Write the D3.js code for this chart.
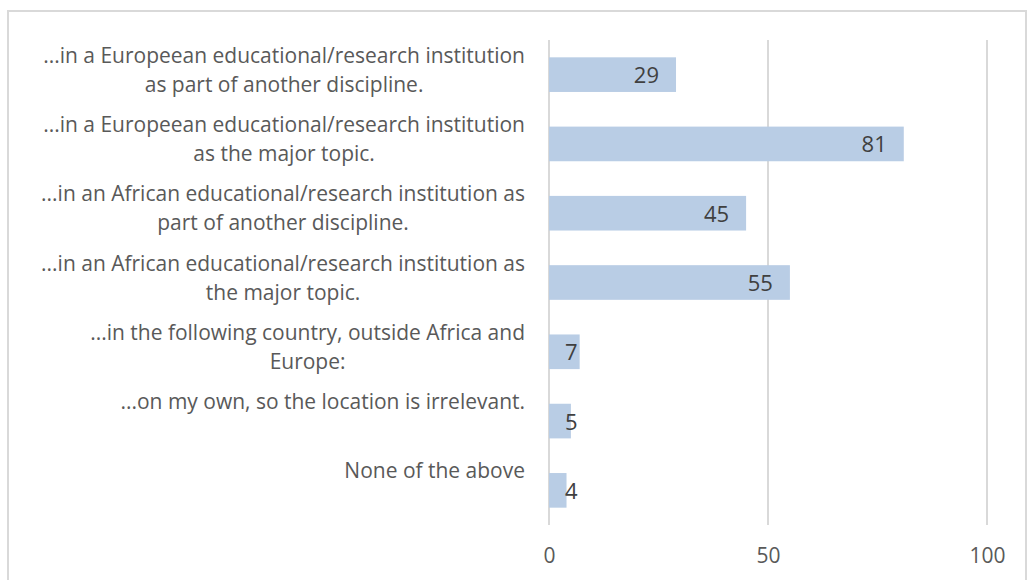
<!DOCTYPE html>
<html>
<head>
<meta charset="utf-8">
<script src="https://cdn.jsdelivr.net/npm/d3@7"></script>
<style>
  html, body { margin: 0; padding: 0; background: #fff; }
  svg { display: block; }
  text { font-family: "Open Sans", sans-serif; }
</style>
</head>
<body>
<svg id="chart" width="1027" height="580"></svg>
<script>
const categories = [
  ["...in a Europeean educational/research institution", "as part of another discipline."],
  ["...in a Europeean educational/research institution", "as the major topic."],
  ["...in an African educational/research institution as", "part of another discipline."],
  ["...in an African educational/research institution as", "the major topic."],
  ["...in the following country, outside Africa and", "Europe:"],
  ["...on my own, so the location is irrelevant."],
  ["None of the above"]
];
const values = [29, 81, 45, 55, 7, 5, 4];
const tickValues = [0, 50, 100];

const svg = d3.select("#chart");
const W = 1027, H = 580;

// outer frame
svg.append("rect")
  .attr("x", 8).attr("y", 11).attr("width", 1018).attr("height", 600)
  .attr("fill", "#fff").attr("stroke", "#d9d9d9").attr("stroke-width", 2);

const plot = { left: 549, right: 987, top: 40, bottom: 525 };
const x = d3.scaleLinear().domain([0, 100]).range([plot.left, plot.right]);
const y = d3.scaleBand().domain(d3.range(categories.length))
  .range([plot.top, plot.bottom]).paddingInner(0.5).paddingOuter(0.25);

// gridlines
svg.append("g").selectAll("line").data(tickValues).join("line")
  .attr("x1", d => x(d)).attr("x2", d => x(d))
  .attr("y1", plot.top).attr("y2", plot.bottom)
  .attr("stroke", "#d9d9d9").attr("stroke-width", 2);

// x axis labels via d3 axis
const xAxis = d3.axisBottom(x).tickValues(tickValues).tickSize(0).tickPadding(0);
const gx = svg.append("g").attr("transform", `translate(0,${plot.bottom})`).call(xAxis);
gx.select(".domain").remove();
gx.selectAll("text")
  .attr("dy", null).attr("y", 38)
  .attr("fill", "#595959").style("font-size", "21px")
  .style("font-family", "'Open Sans', sans-serif");

// bars
svg.append("g").selectAll("rect").data(values).join("rect")
  .attr("x", x(0))
  .attr("y", (d, i) => y(i))
  .attr("width", d => x(d) - x(0))
  .attr("height", y.bandwidth())
  .attr("fill", "#b9cde5");

// data labels (inside end)
const dl = svg.append("g").selectAll("text").data(values).join("text")
  .attr("text-anchor", "end")
  .attr("fill", "#404040")
  .style("font-size", "22px")
  .text(d => d);
dl.each(function(d, i) {
  const w = this.getComputedTextLength();
  const xe = Math.max(x(d) - 17, x(0) + 16 + w);
  d3.select(this).attr("x", xe).attr("y", y(i) + y.bandwidth() / 2 + 8.5);
});

// category labels
const labelRight = 525;
const targetWidth = 482;
const catG = svg.append("g");
// measure font size
const probe = catG.append("text").style("font-size", "20px").text(categories[0][0]);
const fs = 20 * targetWidth / probe.node().getComputedTextLength();
probe.remove();

categories.forEach((lines, i) => {
  const cy = y(i) + y.bandwidth() / 2;
  const tmp = lines.map(l => {
    const t = catG.append("text").style("font-size", fs + "px").text(l);
    const w = t.node().getComputedTextLength();
    t.remove();
    return w;
  });
  const maxW = d3.max(tmp);
  const cx = labelRight - maxW / 2;
  const t = catG.append("text")
    .attr("text-anchor", "middle")
    .attr("fill", "#595959")
    .style("font-size", fs + "px");
  lines.forEach((l, j) => {
    t.append("tspan").attr("x", cx).attr("y", cy - 12 + j * 29).text(l);
  });
});
</script>
</body>
</html>
